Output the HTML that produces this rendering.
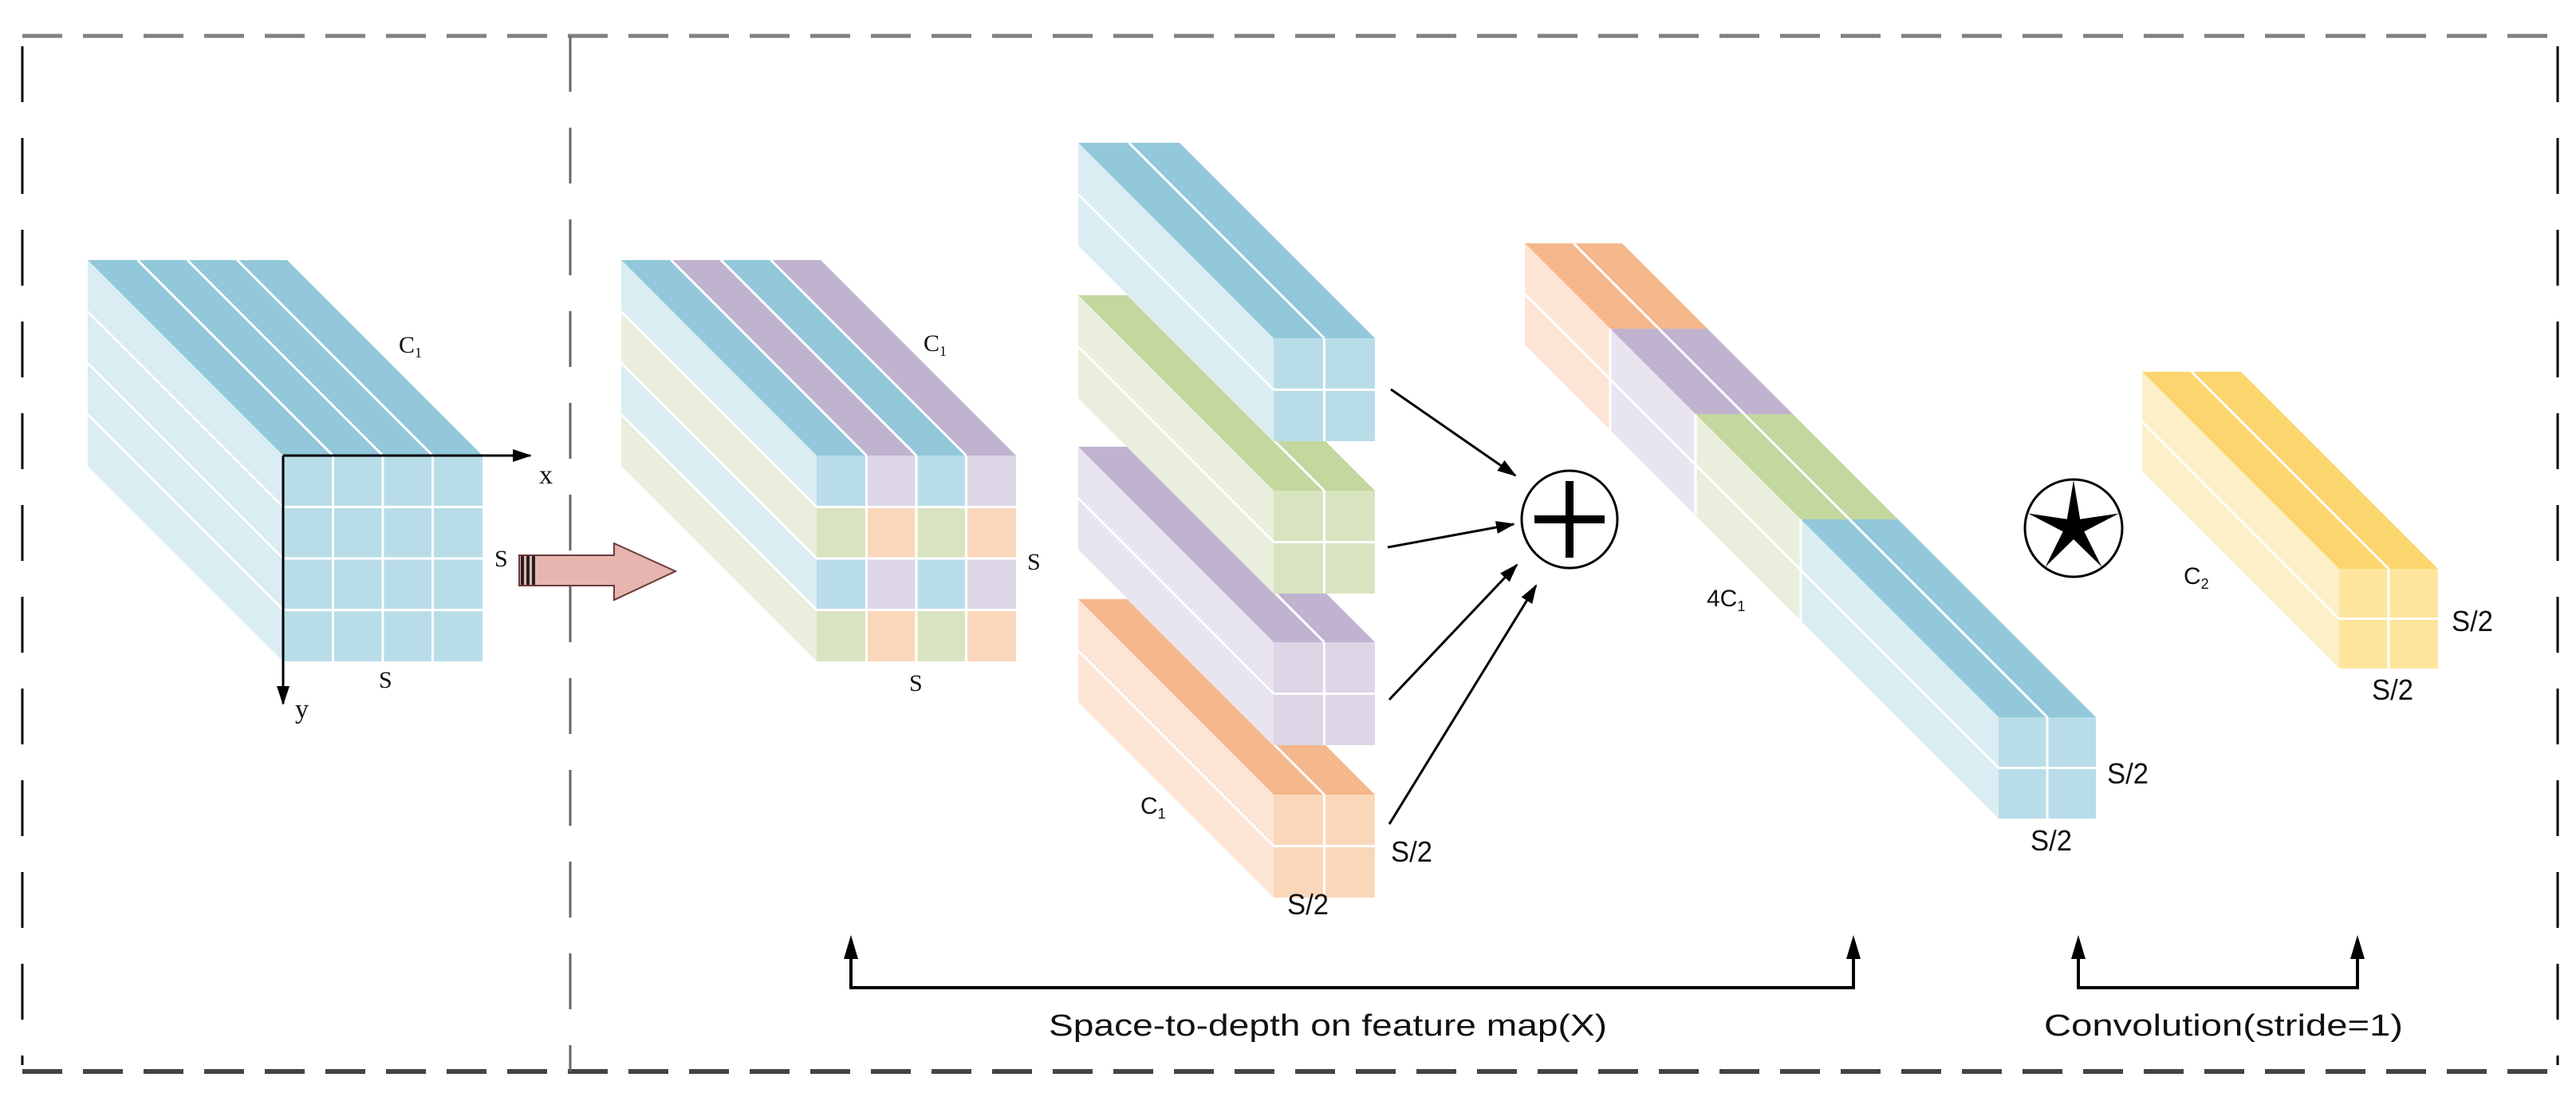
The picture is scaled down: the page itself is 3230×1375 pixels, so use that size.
<!DOCTYPE html>
<html><head><meta charset="utf-8"><style>
html,body{margin:0;padding:0;background:#fff;}
svg{display:block}
.t{font-family:"Liberation Sans",sans-serif;fill:#111}
.s{font-family:"Liberation Serif",serif;fill:#111}
.w{stroke:#fff;stroke-width:3;fill:none}
</style></head><body>
<svg width="3230" height="1375" viewBox="0 0 3230 1375" xmlns="http://www.w3.org/2000/svg">
<defs>
<marker id="ah" markerWidth="10" markerHeight="10" refX="9" refY="5" orient="auto" markerUnits="userSpaceOnUse" viewBox="0 0 10 10">
<path d="M0,0 L10,5 L0,10 z" fill="#000"/></marker>
<marker id="ah2" markerWidth="24" markerHeight="24" refX="22" refY="12" orient="auto" markerUnits="userSpaceOnUse">
<path d="M0,4 L24,12 L0,20 z" fill="#000"/></marker>
</defs>

<!-- borders -->
<line x1="28" y1="45" x2="3205" y2="45" stroke="#808080" stroke-width="5" stroke-dasharray="50 26"/>
<line x1="28" y1="1343" x2="3205" y2="1343" stroke="#444" stroke-width="6" stroke-dasharray="50 26"/>
<line x1="28" y1="58" x2="28" y2="1335" stroke="#000" stroke-width="3" stroke-dasharray="70 45"/>
<line x1="715" y1="45" x2="715" y2="1343" stroke="#666" stroke-width="3" stroke-dasharray="70 45"/>
<line x1="3207" y1="58" x2="3207" y2="1335" stroke="#000" stroke-width="3" stroke-dasharray="70 45"/>

<!-- cube 1 -->
<polygon points="110,326 360,326 605,571 355,571" fill="#92c8da"/>
<polygon points="110,326 355,571 355,829 110,584" fill="#daedf3"/>
<rect x="355" y="571" width="250" height="258" fill="#b9dde8"/>
<g class="w">
<line x1="172.5" y1="326" x2="417.5" y2="571"/><line x1="235" y1="326" x2="480" y2="571"/><line x1="297.5" y1="326" x2="542.5" y2="571"/>
<line x1="110" y1="390.5" x2="355" y2="635.5"/><line x1="110" y1="455" x2="355" y2="700"/><line x1="110" y1="519.5" x2="355" y2="764.5"/>
<line x1="417.5" y1="571" x2="417.5" y2="829"/><line x1="480" y1="571" x2="480" y2="829"/><line x1="542.5" y1="571" x2="542.5" y2="829"/>
<line x1="355" y1="635.5" x2="605" y2="635.5"/><line x1="355" y1="700" x2="605" y2="700"/><line x1="355" y1="764.5" x2="605" y2="764.5"/>
</g>
<line x1="355" y1="571" x2="665" y2="571" stroke="#000" stroke-width="3" marker-end="url(#ah2)"/>
<line x1="355" y1="571" x2="355" y2="882" stroke="#000" stroke-width="3" marker-end="url(#ah2)"/>
<text class="s" x="676" y="606" font-size="34">x</text>
<text class="s" x="370" y="900" font-size="34">y</text>
<text class="s" x="500" y="442" font-size="30">C<tspan font-size="18" dy="6">1</tspan></text>
<text class="s" x="620" y="710" font-size="30">S</text>
<text class="s" x="475" y="862" font-size="30">S</text>

<!-- pink arrow -->
<polygon points="651,696 770,696 770,681 847,716 770,752 770,734 651,734" fill="#e6b5b0" stroke="#6b3a3a" stroke-width="2"/>
<rect x="653" y="697" width="4" height="36" fill="#222"/><rect x="660" y="697" width="4" height="36" fill="#222"/><rect x="667" y="697" width="4" height="36" fill="#222"/>

<!-- cube 2 -->
<polygon points="779,326 841.5,326 1086.5,571 1024,571" fill="#92c8da"/>
<polygon points="841.5,326 904,326 1149,571 1086.5,571" fill="#c0b3d0"/>
<polygon points="904,326 966.5,326 1211.5,571 1149,571" fill="#92c8da"/>
<polygon points="966.5,326 1029,326 1274,571 1211.5,571" fill="#c0b3d0"/>
<polygon points="779,326 1024,571 1024,635.5 779,390.5" fill="#daedf3"/>
<polygon points="779,390.5 1024,635.5 1024,700 779,455" fill="#e9efdc"/>
<polygon points="779,455 1024,700 1024,764.5 779,519.5" fill="#daedf3"/>
<polygon points="779,519.5 1024,764.5 1024,829 779,584" fill="#e9efdc"/>
<rect x="1024" y="571" width="62.5" height="64.5" fill="#b9dde8"/><rect x="1086.5" y="571" width="62.5" height="64.5" fill="#ddd6e6"/><rect x="1149" y="571" width="62.5" height="64.5" fill="#b9dde8"/><rect x="1211.5" y="571" width="62.5" height="64.5" fill="#ddd6e6"/>
<rect x="1024" y="635.5" width="62.5" height="64.5" fill="#d8e4c0"/><rect x="1086.5" y="635.5" width="62.5" height="64.5" fill="#fad7bb"/><rect x="1149" y="635.5" width="62.5" height="64.5" fill="#d8e4c0"/><rect x="1211.5" y="635.5" width="62.5" height="64.5" fill="#fad7bb"/>
<rect x="1024" y="700" width="62.5" height="64.5" fill="#b9dde8"/><rect x="1086.5" y="700" width="62.5" height="64.5" fill="#ddd6e6"/><rect x="1149" y="700" width="62.5" height="64.5" fill="#b9dde8"/><rect x="1211.5" y="700" width="62.5" height="64.5" fill="#ddd6e6"/>
<rect x="1024" y="764.5" width="62.5" height="64.5" fill="#d8e4c0"/><rect x="1086.5" y="764.5" width="62.5" height="64.5" fill="#fad7bb"/><rect x="1149" y="764.5" width="62.5" height="64.5" fill="#d8e4c0"/><rect x="1211.5" y="764.5" width="62.5" height="64.5" fill="#fad7bb"/>
<g class="w">
<line x1="841.5" y1="326" x2="1086.5" y2="571"/><line x1="904" y1="326" x2="1149" y2="571"/><line x1="966.5" y1="326" x2="1211.5" y2="571"/>
<line x1="779" y1="390.5" x2="1024" y2="635.5"/><line x1="779" y1="455" x2="1024" y2="700"/><line x1="779" y1="519.5" x2="1024" y2="764.5"/>
<line x1="1086.5" y1="571" x2="1086.5" y2="829"/><line x1="1149" y1="571" x2="1149" y2="829"/><line x1="1211.5" y1="571" x2="1211.5" y2="829"/>
<line x1="1024" y1="635.5" x2="1274" y2="635.5"/><line x1="1024" y1="700" x2="1274" y2="700"/><line x1="1024" y1="764.5" x2="1274" y2="764.5"/>
</g>
<text class="s" x="1158" y="440" font-size="30">C<tspan font-size="18" dy="6">1</tspan></text>
<text class="s" x="1288" y="714" font-size="30">S</text>
<text class="s" x="1140" y="866" font-size="30">S</text>

<!-- small bars (drawn bottom first) -->
<g transform="translate(0,751)">
<polygon points="1352,0 1479,0 1724,245 1597,245" fill="#f5b78c"/>
<polygon points="1352,0 1597,245 1597,374 1352,129" fill="#fde5d6"/>
<rect x="1597" y="245" width="127" height="129" fill="#fad7bb"/>
<g class="w"><line x1="1415.5" y1="0" x2="1660.5" y2="245"/><line x1="1352" y1="64.5" x2="1597" y2="309.5"/><line x1="1660.5" y1="245" x2="1660.5" y2="374"/><line x1="1597" y1="309.5" x2="1724" y2="309.5"/></g>
</g>
<g transform="translate(0,560)">
<polygon points="1352,0 1479,0 1724,245 1597,245" fill="#c0b3d0"/>
<polygon points="1352,0 1597,245 1597,374 1352,129" fill="#e8e4f0"/>
<rect x="1597" y="245" width="127" height="129" fill="#ddd6e6"/>
<g class="w"><line x1="1415.5" y1="0" x2="1660.5" y2="245"/><line x1="1352" y1="64.5" x2="1597" y2="309.5"/><line x1="1660.5" y1="245" x2="1660.5" y2="374"/><line x1="1597" y1="309.5" x2="1724" y2="309.5"/></g>
</g>
<g transform="translate(0,370)">
<polygon points="1352,0 1479,0 1724,245 1597,245" fill="#c3d79f"/>
<polygon points="1352,0 1597,245 1597,374 1352,129" fill="#e9efdc"/>
<rect x="1597" y="245" width="127" height="129" fill="#d8e4c0"/>
<g class="w"><line x1="1415.5" y1="0" x2="1660.5" y2="245"/><line x1="1352" y1="64.5" x2="1597" y2="309.5"/><line x1="1660.5" y1="245" x2="1660.5" y2="374"/><line x1="1597" y1="309.5" x2="1724" y2="309.5"/></g>
</g>
<g transform="translate(0,179)">
<polygon points="1352,0 1479,0 1724,245 1597,245" fill="#92c8da"/>
<polygon points="1352,0 1597,245 1597,374 1352,129" fill="#daedf3"/>
<rect x="1597" y="245" width="127" height="129" fill="#b9dde8"/>
<g class="w"><line x1="1415.5" y1="0" x2="1660.5" y2="245"/><line x1="1352" y1="64.5" x2="1597" y2="309.5"/><line x1="1660.5" y1="245" x2="1660.5" y2="374"/><line x1="1597" y1="309.5" x2="1724" y2="309.5"/></g>
</g>
<text class="t" x="1430" y="1020" font-size="30">C<tspan font-size="18" dy="6">1</tspan></text>
<text class="t" x="1744" y="1080" font-size="36" textLength="52" lengthAdjust="spacingAndGlyphs">S/2</text>
<text class="t" x="1614" y="1146" font-size="36" textLength="52" lengthAdjust="spacingAndGlyphs">S/2</text>

<!-- arrows to plus -->
<g stroke="#000" stroke-width="3" fill="none">
<line x1="1744" y1="488" x2="1900" y2="596" marker-end="url(#ah2)"/>
<line x1="1740" y1="686" x2="1898" y2="657" marker-end="url(#ah2)"/>
<line x1="1742" y1="877" x2="1902" y2="708" marker-end="url(#ah2)"/>
<line x1="1742" y1="1033" x2="1926" y2="734" marker-end="url(#ah2)"/>
</g>
<ellipse cx="1968" cy="651" rx="60" ry="61" fill="#fff" stroke="#000" stroke-width="3"/>
<line x1="1924" y1="651" x2="2012" y2="651" stroke="#000" stroke-width="10"/>
<line x1="1968" y1="603" x2="1968" y2="699" stroke="#000" stroke-width="10"/>

<!-- big bar 4C1 -->
<polygon points="1912,305 2034,305 2141,412 2019,412" fill="#f5b78c"/>
<polygon points="1912,305 2019,412 2019,539 1912,432" fill="#fde5d6"/>
<g class="w"><line x1="1973" y1="305" x2="2080" y2="412"/><line x1="1912" y1="368.5" x2="2019" y2="475.5"/></g>
<polygon points="2019,412 2141,412 2248,519 2126,519" fill="#c0b3d0"/>
<polygon points="2019,412 2126,519 2126,646 2019,539" fill="#e8e4f0"/>
<g class="w"><line x1="2080" y1="412" x2="2187" y2="519"/><line x1="2019" y1="475.5" x2="2126" y2="582.5"/><line x1="2019" y1="412" x2="2019" y2="539"/></g>
<polygon points="2126,519 2248,519 2380,651 2258,651" fill="#c3d79f"/>
<polygon points="2126,519 2258,651 2258,778 2126,646" fill="#e9efdc"/>
<g class="w"><line x1="2187" y1="519" x2="2319" y2="651"/><line x1="2126" y1="582.5" x2="2258" y2="714.5"/><line x1="2126" y1="519" x2="2126" y2="646"/></g>
<polygon points="2258,651 2380,651 2628,899 2506,899" fill="#92c8da"/>
<polygon points="2258,651 2506,899 2506,1026 2258,778" fill="#daedf3"/>
<rect x="2506" y="899" width="122" height="127" fill="#b9dde8"/>
<g class="w"><line x1="2319" y1="651" x2="2567" y2="899"/><line x1="2258" y1="714.5" x2="2506" y2="962.5"/><line x1="2258" y1="651" x2="2258" y2="778"/><line x1="2567" y1="899" x2="2567" y2="1026"/><line x1="2506" y1="962.5" x2="2628" y2="962.5"/></g>
<text class="t" x="2140" y="760" font-size="30">4C<tspan font-size="18" dy="6">1</tspan></text>
<text class="t" x="2642" y="982" font-size="36" textLength="52" lengthAdjust="spacingAndGlyphs">S/2</text>
<text class="t" x="2546" y="1066" font-size="36" textLength="52" lengthAdjust="spacingAndGlyphs">S/2</text>

<!-- star circle -->
<ellipse cx="2600" cy="662" rx="61" ry="61" fill="#fff" stroke="#000" stroke-width="3"/>
<polygon points="2600,602 2608.2,650.7 2657,643.5 2613.3,666.3 2635.3,710.5 2600,676 2564.7,710.5 2586.7,666.3 2543,643.5 2591.8,650.7" fill="#000"/>

<!-- yellow bar -->
<polygon points="2686,466 2810,466 3057,713 2933,713" fill="#fbd66e"/>
<polygon points="2686,466 2933,713 2933,838 2686,591" fill="#fdf0c9"/>
<rect x="2933" y="713" width="124" height="125" fill="#fde59d"/>
<g class="w"><line x1="2748" y1="466" x2="2995" y2="713"/><line x1="2686" y1="528.5" x2="2933" y2="775.5"/><line x1="2995" y1="713" x2="2995" y2="838"/><line x1="2933" y1="775.5" x2="3057" y2="775.5"/></g>
<text class="t" x="2738" y="732" font-size="30">C<tspan font-size="18" dy="6">2</tspan></text>
<text class="t" x="3074" y="791" font-size="36" textLength="52" lengthAdjust="spacingAndGlyphs">S/2</text>
<text class="t" x="2974" y="877" font-size="36" textLength="52" lengthAdjust="spacingAndGlyphs">S/2</text>

<!-- brackets -->
<g stroke="#000" stroke-width="4" fill="none">
<polyline points="1067,1200 1067,1238 2324,1238 2324,1200"/>
<polyline points="2606,1200 2606,1238 2956,1238 2956,1200"/>
</g>
<g fill="#000">
<polygon points="1067,1172 1058,1202 1076,1202"/><polygon points="2324,1172 2315,1202 2333,1202"/>
<polygon points="2606,1172 2597,1202 2615,1202"/><polygon points="2956,1172 2947,1202 2965,1202"/>
</g>
<text class="t" x="1315" y="1298" font-size="38" textLength="700" lengthAdjust="spacingAndGlyphs">Space-to-depth on feature map(X)</text>
<text class="t" x="2563" y="1298" font-size="38" textLength="450" lengthAdjust="spacingAndGlyphs">Convolution(stride=1)</text>
</svg>
</body></html>
